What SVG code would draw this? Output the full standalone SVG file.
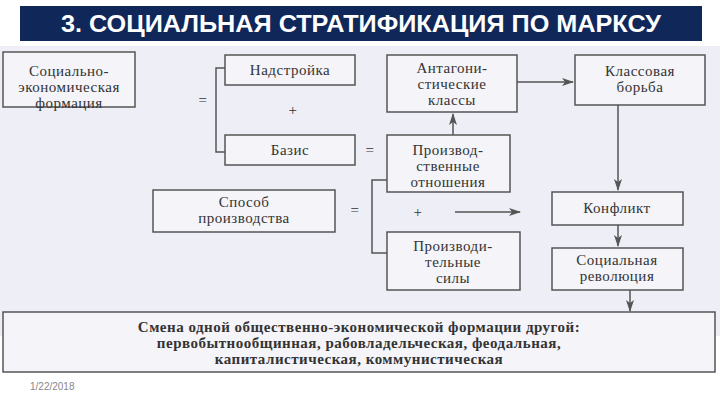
<svg xmlns="http://www.w3.org/2000/svg" width="720" height="405" viewBox="0 0 720 405">
<defs>
<style>
.b{fill:#f4f4f9;stroke:#555;stroke-width:1.5}
.t{font-family:'Liberation Serif','DejaVu Serif','Times New Roman',serif;font-size:15px;fill:#333;text-anchor:middle;letter-spacing:0.5px}
.c{stroke:#555;stroke-width:1.5;fill:none}
</style>
<marker id="a" markerWidth="12" markerHeight="8" refX="11" refY="4" orient="auto" markerUnits="userSpaceOnUse"><path d="M0,0 L12,4 L0,8 L3,4 Z" fill="#555"/></marker>
</defs>
<rect width="720" height="405" fill="#fff"/>
<rect x="0" y="46" width="720" height="290" fill="#eeeff6"/>
<rect x="20" y="6" width="682" height="35" fill="#10275a"/>
<text x="361" y="32" font-family="'Liberation Sans Narrow','Liberation Sans',sans-serif" font-weight="bold" font-size="24" fill="#fff" text-anchor="middle" textLength="600" lengthAdjust="spacingAndGlyphs">3. СОЦИАЛЬНАЯ СТРАТИФИКАЦИЯ ПО МАРКСУ</text>
<g id="n1"><rect class="b" x="3" y="52" width="132" height="55"/><text class="t" y="76"><tspan x="69">Социально-</tspan><tspan x="69" dy="16">экономическая</tspan><tspan x="69" dy="16">формация</tspan></text></g>
<g id="n2"><rect class="b" x="225" y="55" width="130" height="30"/><text class="t" x="290" y="75">Надстройка</text></g>
<g id="n3"><rect class="b" x="225" y="135" width="130" height="30"/><text class="t" x="290" y="155">Базис</text></g>
<g id="n4"><rect class="b" x="387" y="55" width="130" height="57"/><text class="t" y="73"><tspan x="452">Антагони-</tspan><tspan x="452" dy="16">стические</tspan><tspan x="452" dy="16">классы</tspan></text></g>
<g id="n5"><rect class="b" x="575" y="55" width="130" height="50"/><text class="t" y="76"><tspan x="640">Классовая</tspan><tspan x="640" dy="16">борьба</tspan></text></g>
<g id="n6"><rect class="b" x="387" y="135" width="123" height="57"/><text class="t" y="155"><tspan x="448">Производ-</tspan><tspan x="448" dy="16">ственные</tspan><tspan x="448" dy="16">отношения</tspan></text></g>
<g id="n7"><rect class="b" x="153" y="190" width="182" height="42"/><text class="t" y="207"><tspan x="244">Способ</tspan><tspan x="244" dy="16">производства</tspan></text></g>
<g id="n8"><rect class="b" x="552" y="192" width="131" height="33"/><text class="t" x="617" y="213">Конфликт</text></g>
<g id="n9"><rect class="b" x="387" y="232" width="133" height="58"/><text class="t" y="251"><tspan x="453">Производи-</tspan><tspan x="453" dy="16">тельные</tspan><tspan x="453" dy="16">силы</tspan></text></g>
<g id="n10"><rect class="b" x="552" y="248" width="131" height="42"/><text class="t" y="265"><tspan x="617">Социальная</tspan><tspan x="617" dy="16">революция</tspan></text></g>
<g id="n11"><rect class="b" x="3" y="312" width="712" height="60"/><text class="t" y="332" font-weight="bold" letter-spacing="1"><tspan x="359">Смена одной общественно-экономической формации другой:</tspan><tspan x="359" dy="16">первобытнообщинная, рабовладельческая, феодальная,</tspan><tspan x="359" dy="16">капиталистическая, коммунистическая</tspan></text></g>
<g class="t" font-size="18"><text x="203" y="105">=</text><text x="293" y="115">+</text><text x="370" y="155">=</text><text x="355" y="215">=</text><text x="418" y="217">+</text></g>
<g id="connectors">
<path class="c" d="M225,68 H216 V152 H225"/>
<path class="c" d="M387,180 H372 V253 H387"/>
<path class="c" d="M517,82 H573" marker-end="url(#a)"/>
<path class="c" d="M618,105 V190" marker-end="url(#a)"/>
<path class="c" d="M618,225 V246" marker-end="url(#a)"/>
<path class="c" d="M630,290 V311" marker-end="url(#a)"/>
<path class="c" d="M453,135 V114" marker-end="url(#a)"/>
<path class="c" d="M455,212 H520" marker-end="url(#a)"/>
</g>
<text x="30" y="390" font-family="Liberation Sans,sans-serif" font-size="10" fill="#888">1/22/2018</text>
</svg>
